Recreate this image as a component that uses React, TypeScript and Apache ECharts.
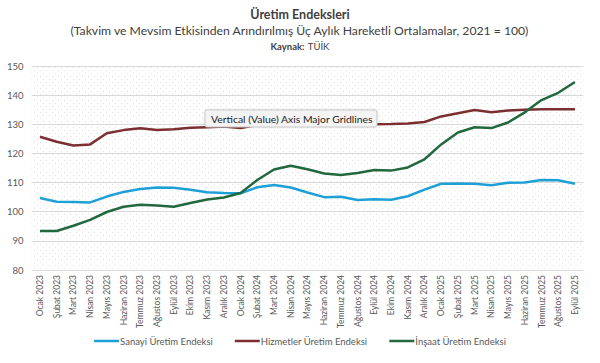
import React, { useEffect, useRef } from "react";
import * as echarts from "echarts";

const months = ["Ocak", "Şubat", "Mart", "Nisan", "Mayıs", "Haziran", "Temmuz", "Ağustos", "Eylül", "Ekim", "Kasım", "Aralık"];
const categories: string[] = [
  ...months.map((m) => m + " 2023"),
  ...months.map((m) => m + " 2024"),
  ...months.slice(0, 9).map((m) => m + " 2025"),
];

const sanayi = [104.7, 103.4, 103.3, 103.2, 105.2, 106.8, 107.8, 108.3, 108.2, 107.5, 106.7, 106.4, 106.3, 108.4, 109.2, 108.3, 106.6, 105.0, 105.1, 104.0, 104.3, 104.1, 105.3, 107.6, 109.6, 109.7, 109.6, 109.1, 109.9, 110.0, 110.9, 110.8, 109.6];
const hizmetler = [125.7, 124.0, 122.7, 123.1, 126.9, 128.0, 128.6, 128.0, 128.3, 128.8, 129.0, 129.2, 128.7, 129.8, 130.3, 130.5, 130.2, 130.0, 129.8, 129.9, 130.0, 130.1, 130.3, 130.8, 132.7, 133.8, 134.9, 134.1, 134.7, 135.0, 135.2, 135.2, 135.2];
const insaat = [93.4, 93.4, 95.2, 97.2, 99.9, 101.7, 102.4, 102.1, 101.7, 103.0, 104.2, 104.9, 106.4, 110.9, 114.5, 115.8, 114.6, 113.1, 112.6, 113.3, 114.3, 114.1, 115.2, 118.0, 123.1, 127.2, 129.0, 128.7, 130.6, 134.1, 138.3, 140.8, 144.5];

const seriesNames = ["Sanayi Üretim Endeksi", "Hizmetler Üretim Endeksi", "İnşaat Üretim Endeksi"];
const seriesColors = ["#1e9fd6", "#7b2f30", "#21683e"];

const FONT = "Lato, 'Open Sans', sans-serif";

function makeDots(): any {
  const c = document.createElement("canvas");
  c.width = 6;
  c.height = 6;
  const ctx = c.getContext("2d");
  if (ctx) {
    ctx.fillStyle = "#ffffff";
    ctx.fillRect(0, 0, 6, 6);
    ctx.fillStyle = "#e0e0e0";
    ctx.fillRect(1, 1, 1, 1);
    ctx.fillRect(4, 4, 1, 1);
  }
  return c;
}

export default function App() {
  const ref = useRef<HTMLDivElement>(null);
  useEffect(() => {
    document.body.style.margin = "0";
    if (!ref.current) return;
    const chart = echarts.init(ref.current, null, { renderer: "svg" });
    const data = [sanayi, hizmetler, insaat];
    let bg: any = "#fafafa";
    try {
      bg = { image: makeDots(), repeat: "repeat" };
    } catch (e) {
      bg = "#fafafa";
    }
    chart.setOption({
      animation: false,
      backgroundColor: "#ffffff",
      textStyle: { fontFamily: FONT },
      grid: {
        left: 31.6,
        width: 551.7,
        top: 66,
        height: 204,
        show: true,
        backgroundColor: bg,
        borderWidth: 0,
      },
      legend: {
        bottom: 12,
        left: "center",
        icon: "rect",
        itemWidth: 25,
        itemHeight: 2.5,
        itemGap: 22,
        textStyle: { color: "#595959", fontSize: 9.5, fontFamily: FONT, padding: [0, 0, 0, -4] },
        data: seriesNames,
      },
      xAxis: {
        type: "category",
        data: categories,
        boundaryGap: true,
        axisLine: { show: false },
        axisTick: { show: false },
        axisLabel: {
          interval: 0,
          rotate: 90,
          color: "#595959",
          fontSize: 8.5,
          margin: 5,
          fontFamily: FONT,
        },
      },
      yAxis: {
        type: "value",
        min: 80,
        max: 150,
        interval: 10,
        axisLine: { show: false },
        axisTick: { show: false },
        axisLabel: { color: "#595959", fontSize: 9.5, margin: 8, fontFamily: FONT },
        splitLine: { lineStyle: { color: "#d9d9d9", width: 1 } },
      },
      series: data.map((d, i) => ({
        name: seriesNames[i],
        type: "line",
        data: d,
        symbol: "none",
        smooth: false,
        lineStyle: { color: seriesColors[i], width: 2.5 },
        itemStyle: { color: seriesColors[i] },
        z: 2,
      })),
      graphic: [
        {
          type: "text",
          left: "center",
          top: 8,
          style: { text: "Üretim Endeksleri", fill: "#404040", font: "bold 12.5px " + FONT },
        },
        {
          type: "text",
          left: "center",
          top: 24,
          style: {
            text: "(Takvim ve Mevsim Etkisinden Arındırılmış Üç Aylık Hareketli Ortalamalar, 2021 = 100)",
            fill: "#404040",
            font: "12.2px " + FONT,
          },
        },
        {
          type: "text",
          left: "center",
          top: 40,
          style: {
            text: "{b|Kaynak:} {r|TÜİK}",
            rich: {
              b: { fontWeight: "bold", fontSize: 9.5, fill: "#404040", fontFamily: FONT },
              r: { fontSize: 9.5, fill: "#404040", fontFamily: FONT },
            },
          },
        },
        {
          type: "rect",
          z: 100,
          shape: { x: 205, y: 110, width: 172, height: 17, r: 2 },
          style: { fill: "#f4f4f4", stroke: "#c9c9c9", lineWidth: 1, shadowBlur: 2, shadowColor: "rgba(0,0,0,0.15)" },
        },
        {
          type: "text",
          z: 101,
          x: 211,
          y: 119,
          style: {
            text: "Vertical (Value) Axis Major Gridlines",
            fill: "#222222",
            font: "10.4px " + FONT,
            verticalAlign: "middle",
          },
        },
      ],
    });
    return () => chart.dispose();
  }, []);
  return <div ref={ref} style={{ width: 600, height: 363 }} />;
}
